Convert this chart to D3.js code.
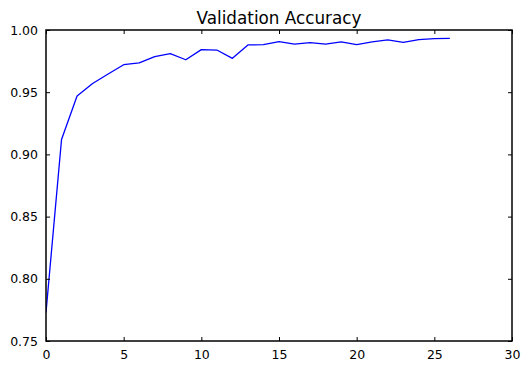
<!DOCTYPE html>
<html>
<head>
<meta charset="utf-8">
<script src="https://cdn.jsdelivr.net/npm/d3@7"></script>
<style>
  body { margin: 0; background: #fff; }
  text { font-family: 'DejaVu Sans', sans-serif; }
</style>
</head>
<body>
<svg id="chart"></svg>
<script>
// Epochs and validation accuracy values
const epochs = d3.range(0, 27);
const accuracy = [
  0.773, 0.912, 0.947, 0.957, 0.9646, 0.9721, 0.9735, 0.9786, 0.981,
  0.9761, 0.9842, 0.9839, 0.9772, 0.988, 0.9882, 0.9906, 0.9887, 0.9898,
  0.9887, 0.9904, 0.9882, 0.9904, 0.992, 0.990, 0.9922, 0.993, 0.9933
];
const xTicks = [0, 5, 10, 15, 20, 25, 30];
const yTicks = [0.75, 0.80, 0.85, 0.90, 0.95, 1.00];
const title = 'Validation Accuracy';

const width = 530;
const height = 370;
const margin = { top: 30, right: 18, bottom: 29, left: 46 };

const svg = d3.select('#chart').attr('width', width).attr('height', height);

const x = d3.scaleLinear().domain([0, 30]).range([margin.left, width - margin.right]);
const y = d3.scaleLinear().domain([0.75, 1.0]).range([height - margin.bottom, margin.top]);

// Line
const line = d3.line()
  .x((d, i) => x(epochs[i]))
  .y(d => y(d));

svg.append('clipPath').attr('id', 'clip')
  .append('rect')
  .attr('x', margin.left).attr('y', margin.top)
  .attr('width', width - margin.left - margin.right)
  .attr('height', height - margin.top - margin.bottom);

svg.append('path')
  .datum(accuracy)
  .attr('clip-path', 'url(#clip)')
  .attr('fill', 'none')
  .attr('stroke', '#0000ff')
  .attr('stroke-width', 1.3)
  .attr('stroke-linejoin', 'round')
  .attr('d', line);

// Axes (ticks pointing inward, on all sides, matplotlib classic)
const tickLen = 4;
function styleAxis(g) {
  g.select('.domain').remove();
  g.selectAll('.tick line').attr('stroke', '#000');
  g.selectAll('.tick text').attr('fill', '#000').style('font-size', '12.5px');
}

svg.append('g')
  .attr('transform', `translate(0,${height - margin.bottom})`)
  .call(d3.axisBottom(x).tickValues(xTicks).tickSizeInner(-tickLen).tickSizeOuter(0).tickPadding(9).tickFormat(d3.format('d')))
  .call(styleAxis);

svg.append('g')
  .attr('transform', `translate(0,${margin.top})`)
  .call(d3.axisTop(x).tickValues(xTicks).tickSizeInner(-tickLen).tickSizeOuter(0).tickFormat(''))
  .call(styleAxis);

svg.append('g')
  .attr('transform', `translate(${margin.left},0)`)
  .call(d3.axisLeft(y).tickValues(yTicks).tickSizeInner(-tickLen).tickSizeOuter(0).tickPadding(8).tickFormat(d3.format('.2f')))
  .call(styleAxis);

svg.append('g')
  .attr('transform', `translate(${width - margin.right},0)`)
  .call(d3.axisRight(y).tickValues(yTicks).tickSizeInner(-tickLen).tickSizeOuter(0).tickFormat(''))
  .call(styleAxis);

// Frame
svg.append('rect')
  .attr('x', margin.left).attr('y', margin.top)
  .attr('width', width - margin.left - margin.right)
  .attr('height', height - margin.top - margin.bottom)
  .attr('fill', 'none')
  .attr('stroke', '#000')
  .attr('stroke-width', 1.5);

// Title
svg.append('text')
  .attr('x', (margin.left + width - margin.right) / 2)
  .attr('y', 24)
  .attr('text-anchor', 'middle')
  .style('font-size', '16.8px')
  .text(title);
</script>
</body>
</html>
